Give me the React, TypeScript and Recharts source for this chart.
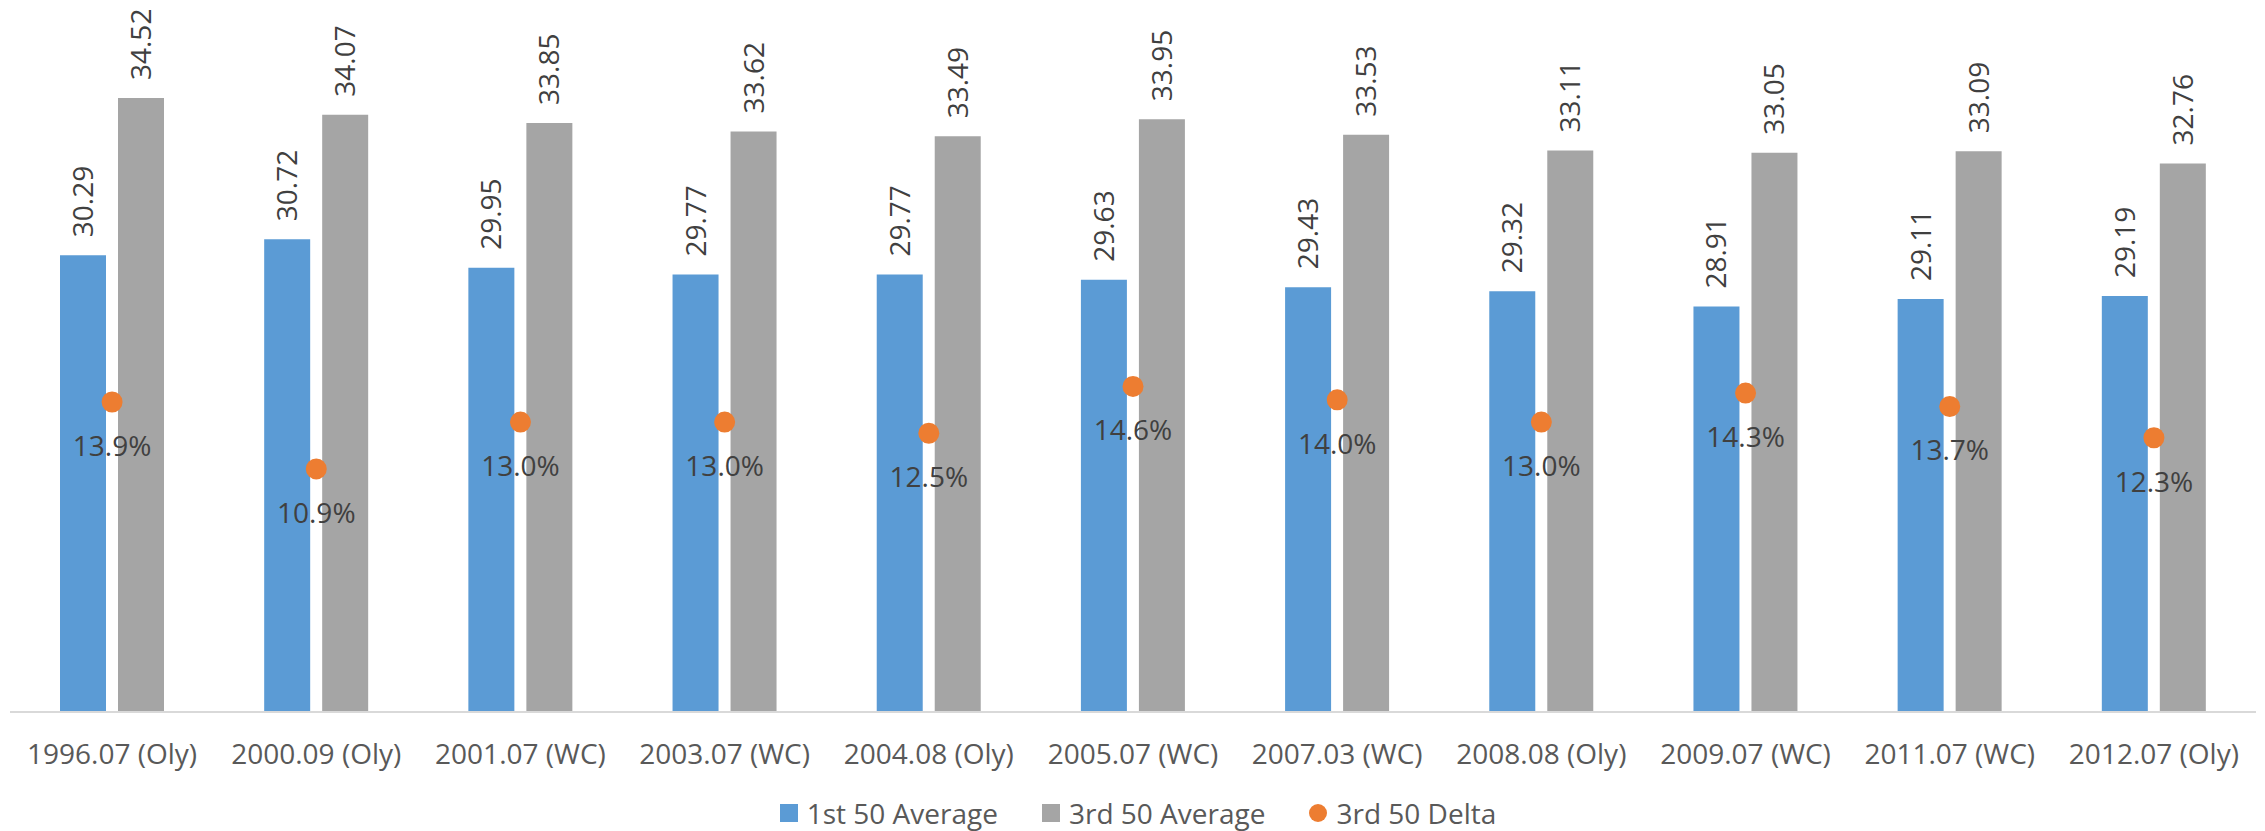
import { ComposedChart, Bar, Scatter, XAxis, YAxis, ZAxis, LabelList, Legend } from 'recharts'

const categories = [
  '1996.07 (Oly)', '2000.09 (Oly)', '2001.07 (WC)', '2003.07 (WC)', '2004.08 (Oly)', '2005.07 (WC)',
  '2007.03 (WC)', '2008.08 (Oly)', '2009.07 (WC)', '2011.07 (WC)', '2012.07 (Oly)',
]
const first50Avg = [30.29, 30.72, 29.95, 29.77, 29.77, 29.63, 29.43, 29.32, 28.91, 29.11, 29.19]
const third50Avg = [34.52, 34.07, 33.85, 33.62, 33.49, 33.95, 33.53, 33.11, 33.05, 33.09, 32.76]
const third50Delta = [13.9, 10.9, 13.0, 13.0, 12.5, 14.6, 14.0, 13.0, 14.3, 13.7, 12.3] // percent

const legendItems = [
  { name: '1st 50 Average', color: '#5b9bd5', round: false },
  { name: '3rd 50 Average', color: '#a5a5a5', round: false },
  { name: '3rd 50 Delta', color: '#ed7d31', round: true },
]

const data = categories.map((name, i) => ({
  name,
  first: first50Avg[i],
  third: third50Avg[i],
  delta: third50Delta[i],
}))

const FONT = '"Open Sans", sans-serif'

// rotated value label sitting above a bar
function BarValue(props: any) {
  const vb = props.viewBox ?? props
  const cx = vb.x + vb.width / 2 + 10
  const y = vb.y - 18
  return (
    <text x={cx} y={y} transform={`rotate(-90, ${cx}, ${y})`} textAnchor="start"
      fontSize={28} fontFamily={FONT} fill="#404040">
      {Number(props.value).toFixed(2)}
    </text>
  )
}

// percent label under each delta dot
function DeltaValue(props: any) {
  const vb = props.viewBox ?? props
  const cx = vb.x + (vb.width || 0) / 2
  const cy = vb.y + (vb.height || 0) / 2
  const v = props.value ?? props.payload?.delta
  return (
    <text x={cx} y={cy + 54} textAnchor="middle" fontSize={28} fontFamily={FONT} fill="#404040">
      {Number(v).toFixed(1)}%
    </text>
  )
}

function LegendRow() {
  return (
    <div style={{ width: 2265, height: 36, display: 'flex', alignItems: 'center', justifyContent: 'center',
      paddingLeft: 11, boxSizing: 'border-box', fontFamily: FONT, fontSize: 28, color: '#595959' }}>
      {legendItems.map((it, i) => (
        <div key={it.name} style={{ display: 'flex', alignItems: 'center', marginLeft: i === 0 ? 0 : 44 }}>
          <span style={{ width: 18, height: 18, background: it.color, borderRadius: it.round ? '50%' : 0, marginRight: 9 }} />
          <span style={{ lineHeight: '36px' }}>{it.name}</span>
        </div>
      ))}
    </div>
  )
}

export default function App() {
  return (
    <div style={{ width: 2265, height: 831, background: '#fff' }}>
      <style>{'body{margin:0}'}</style>
      <ComposedChart width={2265} height={831} data={data}
        margin={{ top: 43, right: 9, bottom: 59, left: 10 }} barSize={46} barGap={12}>
        <XAxis dataKey="name" interval={0} height={60} tickLine={false} tickMargin={26}
          axisLine={{ stroke: '#d9d9d9', strokeWidth: 2 }}
          tick={{ fontSize: 28, fontFamily: FONT, fill: '#595959' }} />
        <YAxis yAxisId="left" hide domain={[18, 36]} allowDataOverflow />
        <YAxis yAxisId="right" orientation="right" hide domain={[0, 30]} />
        <ZAxis range={[346, 346]} />
        <Legend layout="horizontal" verticalAlign="middle" align="center"
          wrapperStyle={{ top: 795, left: 0, width: 2265, height: 36 }} content={() => <LegendRow />} />
        <Bar yAxisId="left" dataKey="first" name="1st 50 Average" fill="#5b9bd5" isAnimationActive={false}>
          <LabelList dataKey="first" content={BarValue} />
        </Bar>
        <Bar yAxisId="left" dataKey="third" name="3rd 50 Average" fill="#a5a5a5" isAnimationActive={false}>
          <LabelList dataKey="third" content={BarValue} />
        </Bar>
        <Scatter yAxisId="right" dataKey="delta" name="3rd 50 Delta" fill="#ed7d31" isAnimationActive={false}>
          <LabelList dataKey="delta" content={DeltaValue} />
        </Scatter>
      </ComposedChart>
    </div>
  )
}
